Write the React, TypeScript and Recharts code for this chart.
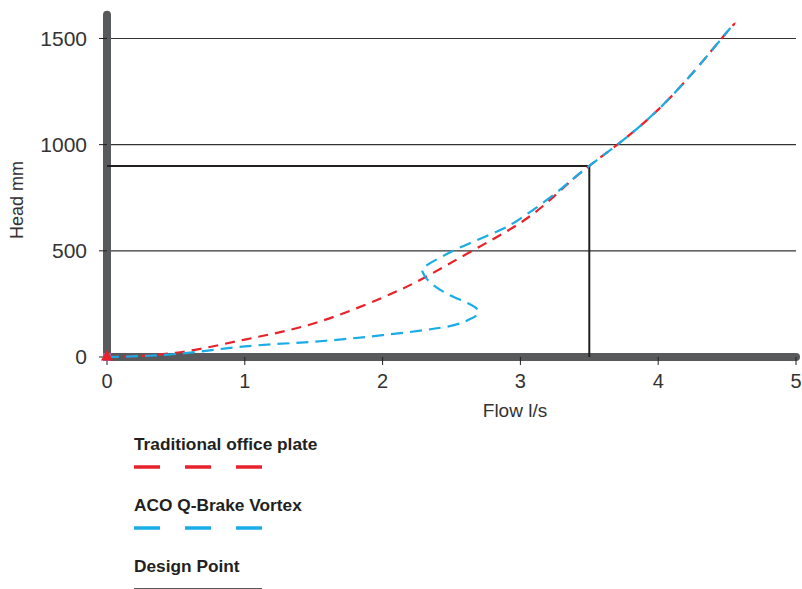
import { ComposedChart, Line, XAxis, YAxis, CartesianGrid, Scatter, Label } from 'recharts';

const X_TICKS = [0, 1, 2, 3, 4, 5];
const Y_TICKS = [0, 500, 1000, 1500];
const GRID_VALUES = [500, 1000, 1500];

// traditional orifice plate (red)
const orificeFlow = [0, 0.5, 1, 1.5, 2, 2.31, 2.65, 3, 3.25, 3.5, 4, 4.46, 4.56];
const orificeHead = [0, 20, 82, 158, 280, 376, 500, 632, 760, 900, 1165, 1500, 1570];

// ACO Q-Brake vortex (blue), folds back around 2.3–2.7 l/s
const vortexFlow = [0, 0.5, 1, 1.5, 2, 2.46, 2.62, 2.68, 2.67, 2.49, 2.34, 2.29, 2.32, 2.48, 2.63, 2.85, 3.0, 3.25, 3.5, 4, 4.46, 4.5];
const vortexHead = [0, 14, 50, 72, 103, 142, 174, 195, 235, 291, 354, 401, 432, 490, 535, 597, 652, 768, 900, 1165, 1500, 1530];

// design point 3.5 l/s @ 900 mm
const designFlow = [0, 3.5, 3.5];
const designHead = [900, 900, 0];

// heavy axis bars drawn as series so the curves sit on top of them
const xAxisBarFlow = [0, 5];
const xAxisBarHead = [0, 0];
const yAxisBarFlow = [0, 0];
const yAxisBarHead = [0, 1612];

const RED = '#E8222B';
const BLUE = '#1AACE6';
const AXIS = '#58595B';
const TEXT = '#333333';
const FONT = '"Liberation Sans", Arial, sans-serif';
const NARROW = '"Liberation Sans Narrow", "Arial Narrow", "Liberation Sans", sans-serif';

const toPoints = (xs: number[], ys: number[]) => xs.map((x, i) => ({ x, y: ys[i] }));

const orificeData = toPoints(orificeFlow, orificeHead);
const vortexData = toPoints(vortexFlow, vortexHead);
const designData = toPoints(designFlow, designHead);
const xBarData = toPoints(xAxisBarFlow, xAxisBarHead);
const yBarData = toPoints(yAxisBarFlow, yAxisBarHead);

function LegendItem({ top, label, color, dashed }: { top: number; label: string; color: string; dashed: boolean }) {
  return (
    <div style={{ position: 'absolute', left: 134, top }}>
      <div style={{ fontFamily: NARROW, fontWeight: 700, fontSize: 17.3, color: '#231F20', lineHeight: '20px' }}>{label}</div>
      <svg width={130} height={6} style={{ display: 'block', marginTop: 10 }}>
        <line
          x1={0}
          y1={3}
          x2={128}
          y2={3}
          stroke={color}
          strokeWidth={dashed ? 3.5 : 1.5}
          strokeDasharray={dashed ? '26 25' : undefined}
        />
      </svg>
    </div>
  );
}

export default function App() {
  return (
    <div style={{ position: 'absolute', left: 0, top: 0, width: 802, height: 589, background: '#fff' }}>
      <ComposedChart width={802} height={589} margin={{ top: 13, right: 6, left: 0, bottom: 182 }}>
        <CartesianGrid vertical={false} horizontalValues={GRID_VALUES} stroke="#333" strokeWidth={1.2} />
        <XAxis
          dataKey="x"
          type="number"
          domain={[0, 5]}
          ticks={X_TICKS}
          height={50}
          tickSize={8}
          tickMargin={9}
          axisLine={false}
          tick={{ fontSize: 20, fill: TEXT, fontFamily: FONT }}
          tickLine={{ stroke: '#231F20', strokeWidth: 1 }}
        >
          <Label
            content={() => (
              <text x={515} y={417} textAnchor="middle" fontSize={19} fontFamily={FONT} fill={TEXT}>
                Flow l/s
              </text>
            )}
          />
        </XAxis>
        <YAxis
          dataKey="y"
          type="number"
          domain={[0, 1620]}
          ticks={Y_TICKS}
          width={107}
          tickSize={8}
          tickMargin={12}
          axisLine={false}
          tick={{ fontSize: 21, fill: TEXT, fontFamily: FONT }}
          tickLine={{ stroke: '#231F20', strokeWidth: 1 }}
        >
          <Label
            content={() => (
              <text
                x={23}
                y={200}
                transform="rotate(-90 23 200)"
                textAnchor="middle"
                fontSize={18}
                fontFamily={FONT}
                fill={TEXT}
              >
                Head mm
              </text>
            )}
          />
        </YAxis>
        <Line
          data={xBarData}
          dataKey="y"
          type="linear"
          stroke={AXIS}
          strokeWidth={8}
          strokeLinecap="round"
          dot={false}
          activeDot={false}
          isAnimationActive={false}
        />
        <Line
          data={yBarData}
          dataKey="y"
          type="linear"
          stroke={AXIS}
          strokeWidth={8}
          strokeLinecap="round"
          dot={false}
          activeDot={false}
          isAnimationActive={false}
        />
        <Line
          data={designData}
          dataKey="y"
          type="linear"
          stroke="#231F20"
          strokeWidth={2}
          dot={false}
          activeDot={false}
          isAnimationActive={false}
        />
        <Line
          data={orificeData}
          dataKey="y"
          type="natural"
          stroke={RED}
          strokeWidth={2.2}
          strokeDasharray="10 7"
          dot={false}
          activeDot={false}
          isAnimationActive={false}
        />
        <Line
          data={vortexData}
          dataKey="y"
          type="natural"
          stroke={BLUE}
          strokeWidth={2.2}
          strokeDasharray="12 7"
          dot={false}
          activeDot={false}
          isAnimationActive={false}
        />
        <Scatter data={[{ x: 0, y: 0 }]} shape="square" fill="#8C6BB1" isAnimationActive={false} />
        <Scatter data={[{ x: 0, y: 0 }]} shape="triangle" fill={RED} isAnimationActive={false} />
      </ComposedChart>
      <LegendItem top={434} label="Traditional office plate" color={RED} dashed />
      <LegendItem top={495} label="ACO Q-Brake Vortex" color={BLUE} dashed />
      <LegendItem top={556} label="Design Point" color="#231F20" dashed={false} />
    </div>
  );
}
